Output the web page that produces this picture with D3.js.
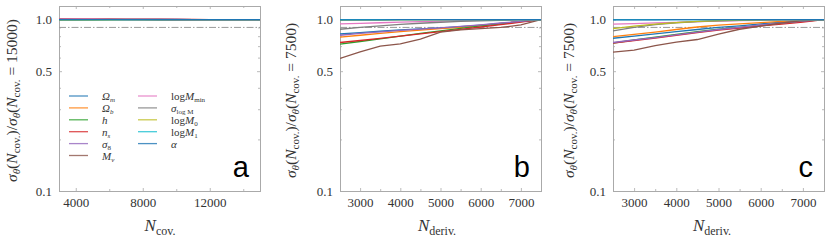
<!DOCTYPE html>
<html>
<head>
<meta charset="utf-8">
<script src="https://cdn.jsdelivr.net/npm/d3@7"></script>
<style>
  body { margin: 0; background: #fff; }
  svg { display: block; }
</style>
</head>
<body>
<svg id="chart" width="830" height="241"></svg>
<script>
// parameter names and matplotlib default colours
var params = ["Om", "Ob", "h", "ns", "s8", "Mnu", "logMmin", "sigmalogM", "logM0", "logM1", "alpha"];
var colors = ["#1f77b4", "#ff7f0e", "#2ca02c", "#d62728", "#9467bd", "#8c564b",
              "#e377c2", "#7f7f7f", "#bcbd22", "#17becf", "#1f77b4"];
// legend labels: [prefix, symbol, subscript]
var legendLabels = [["", "Ω", "m"], ["", "Ω", "b"], ["", "h", ""], ["", "n", "s"], ["", "σ", "8"], ["", "M", "ν"],
                    ["log", "M", "min"], ["", "σ", "log M"], ["log", "M", "0"], ["log", "M", "1"], ["", "α", ""]];

// panel a: N_cov.
var nCov = [3000, 4000, 5000, 6000, 7000, 8000, 9000, 10000, 11000, 12000, 13000, 14000, 15000];
var ratioA = {
  Om:        [1.006, 1.005, 1.004, 1.003, 1.002, 1.002, 1.001, 1.001, 1.0, 1.0, 1.0, 1.0, 1.0],
  Ob:        [1.004, 1.004, 1.003, 1.002, 1.002, 1.001, 1.001, 1.0, 1.0, 1.0, 1.0, 1.0, 1.0],
  h:         [0.996, 0.997, 0.997, 0.998, 0.998, 0.999, 0.999, 0.999, 1.0, 1.0, 1.0, 1.0, 1.0],
  ns:        [1.008, 1.007, 1.006, 1.005, 1.004, 1.003, 1.002, 1.001, 1.001, 1.0, 1.0, 1.0, 1.0],
  s8:        [1.003, 1.003, 1.002, 1.002, 1.001, 1.001, 1.001, 1.0, 1.0, 1.0, 1.0, 1.0, 1.0],
  Mnu:       [1.005, 1.004, 1.004, 1.003, 1.003, 1.002, 1.001, 1.001, 1.0, 1.0, 1.0, 1.0, 1.0],
  logMmin:   [1.007, 1.006, 1.005, 1.004, 1.003, 1.002, 1.002, 1.001, 1.0, 1.0, 1.0, 1.0, 1.0],
  sigmalogM: [0.997, 0.997, 0.998, 0.998, 0.999, 0.999, 0.999, 1.0, 1.0, 1.0, 1.0, 1.0, 1.0],
  logM0:     [0.995, 0.996, 0.997, 0.997, 0.998, 0.998, 0.999, 0.999, 1.0, 1.0, 1.0, 1.0, 1.0],
  logM1:     [1.0, 1.0, 1.0, 1.0, 1.0, 1.0, 1.0, 1.0, 1.0, 1.0, 1.0, 1.0, 1.0],
  alpha:     [1.0, 1.0, 1.0, 1.0, 1.0, 1.0, 1.0, 1.0, 1.0, 1.0, 1.0, 1.0, 1.0]
};

// panels b and c: N_deriv.
var nDeriv = [2500, 3000, 3500, 4000, 4500, 5000, 5500, 6000, 6500, 7000, 7500];
var ratioB = {
  Om:        [0.824, 0.840, 0.855, 0.870, 0.882, 0.893, 0.908, 0.928, 0.950, 0.975, 1.0],
  Ob:        [0.790, 0.810, 0.830, 0.850, 0.868, 0.885, 0.900, 0.925, 0.950, 0.975, 1.0],
  h:         [0.720, 0.745, 0.772, 0.800, 0.830, 0.860, 0.888, 0.918, 0.945, 0.972, 1.0],
  ns:        [0.735, 0.755, 0.777, 0.800, 0.825, 0.850, 0.876, 0.905, 0.935, 0.965, 1.0],
  s8:        [0.810, 0.830, 0.848, 0.865, 0.880, 0.895, 0.912, 0.932, 0.955, 0.977, 1.0],
  Mnu:       [0.594, 0.648, 0.700, 0.722, 0.768, 0.845, 0.870, 0.885, 0.900, 0.930, 1.0],
  logMmin:   [0.943, 0.950, 0.958, 0.966, 0.973, 0.979, 0.985, 0.990, 0.995, 0.998, 1.0],
  sigmalogM: [0.878, 0.900, 0.920, 0.938, 0.952, 0.965, 0.975, 0.984, 0.990, 0.995, 1.0],
  logM0:     [0.992, 0.993, 0.994, 0.995, 0.996, 0.997, 0.998, 0.999, 1.0, 1.0, 1.0],
  logM1:     [0.998, 0.998, 0.999, 0.999, 0.999, 1.0, 1.0, 1.0, 1.0, 1.0, 1.0],
  alpha:     [0.995, 0.996, 0.997, 0.998, 0.998, 0.999, 0.999, 1.0, 1.0, 1.0, 1.0]
};
var ratioC = {
  Om:        [0.778, 0.800, 0.825, 0.850, 0.875, 0.900, 0.920, 0.945, 0.965, 0.985, 1.0],
  Ob:        [0.795, 0.820, 0.845, 0.875, 0.905, 0.928, 0.945, 0.960, 0.975, 0.990, 1.0],
  h:         [0.730, 0.760, 0.790, 0.820, 0.850, 0.878, 0.900, 0.925, 0.950, 0.975, 1.0],
  ns:        [0.728, 0.755, 0.780, 0.810, 0.840, 0.868, 0.893, 0.918, 0.940, 0.965, 1.0],
  s8:        [0.735, 0.760, 0.785, 0.815, 0.845, 0.875, 0.900, 0.930, 0.955, 0.980, 1.0],
  Mnu:       [0.645, 0.664, 0.705, 0.738, 0.765, 0.822, 0.878, 0.915, 0.955, 0.985, 1.0],
  logMmin:   [0.940, 0.948, 0.956, 0.964, 0.972, 0.979, 0.985, 0.990, 0.995, 0.998, 1.0],
  sigmalogM: [0.860, 0.900, 0.935, 0.958, 0.973, 0.983, 0.990, 0.995, 0.998, 1.0, 1.0],
  logM0:     [0.885, 0.915, 0.940, 0.960, 0.975, 0.985, 0.992, 0.996, 0.999, 1.0, 1.0],
  logM1:     [0.998, 0.998, 0.999, 0.999, 0.999, 1.0, 1.0, 1.0, 1.0, 1.0, 1.0],
  alpha:     [0.995, 0.996, 0.997, 0.998, 0.998, 0.999, 0.999, 1.0, 1.0, 1.0, 1.0]
};

var yTicks = [0.1, 0.5, 1.0];
var yMinor = [0.2, 0.3, 0.4, 0.6, 0.7, 0.8, 0.9];
var refLine = 0.9;

var panels = [
  { letter: "a", xs: nCov, ys: ratioA, xDomain: [3000, 15000], xTicks: [4000, 8000, 12000], xMinor: [6000, 10000, 14000],
    xsub: "cov.", norm: "15000", left: 59, right: 260, ylabX: 17, xlabX: 160 },
  { letter: "b", xs: nDeriv, ys: ratioB, xDomain: [2500, 7500], xTicks: [3000, 4000, 5000, 6000, 7000], xMinor: [2500, 3500, 4500, 5500, 6500, 7500],
    xsub: "deriv.", norm: "7500", left: 340, right: 541, ylabX: 296, xlabX: 437 },
  { letter: "c", xs: nDeriv, ys: ratioC, xDomain: [2500, 7500], xTicks: [3000, 4000, 5000, 6000, 7000], xMinor: [2500, 3500, 4500, 5500, 6500, 7500],
    xsub: "deriv.", norm: "7500", left: 613, right: 824, ylabX: 574, xlabX: 712 }
];

var serif = "'Times New Roman', 'Liberation Serif', 'DejaVu Serif', serif";
var plotTop = 6, plotBottom = 191;
var svg = d3.select("#chart");

panels.forEach(function(p, pi) {
  var x = d3.scaleLinear().domain(p.xDomain).range([p.left, p.right]);
  var y = d3.scaleLog().domain([0.1, 1.2]).range([plotBottom, plotTop]);

  var grp = svg.append("g");
  var clipId = "clip" + pi;
  grp.append("clipPath").attr("id", clipId)
    .append("rect").attr("x", p.left).attr("y", plotTop).attr("width", p.right - p.left).attr("height", plotBottom - plotTop);

  // axes with inward ticks on all four sides
  grp.append("g").attr("transform", "translate(0," + plotBottom + ")")
    .call(d3.axisBottom(x).tickValues(p.xTicks).tickSize(-3).tickPadding(7).tickFormat(d3.format("d")))
    .call(styleAxis);
  grp.append("g").attr("transform", "translate(0," + plotBottom + ")")
    .call(d3.axisBottom(x).tickValues(p.xMinor).tickSize(-2).tickFormat(""))
    .call(styleAxis);
  grp.append("g").attr("transform", "translate(0," + plotTop + ")")
    .call(d3.axisTop(x).tickValues(p.xTicks).tickSize(-3).tickFormat(""))
    .call(styleAxis);
  grp.append("g").attr("transform", "translate(0," + plotTop + ")")
    .call(d3.axisTop(x).tickValues(p.xMinor).tickSize(-2).tickFormat(""))
    .call(styleAxis);
  grp.append("g").attr("transform", "translate(" + p.left + ",0)")
    .call(d3.axisLeft(y).tickValues(yTicks).tickSize(-3).tickPadding(7).tickFormat(d3.format(".1f")))
    .call(styleAxis);
  grp.append("g").attr("transform", "translate(" + p.left + ",0)")
    .call(d3.axisLeft(y).tickValues(yMinor).tickSize(-2).tickFormat(""))
    .call(styleAxis);
  grp.append("g").attr("transform", "translate(" + p.right + ",0)")
    .call(d3.axisRight(y).tickValues(yTicks).tickSize(-3).tickFormat(""))
    .call(styleAxis);
  grp.append("g").attr("transform", "translate(" + p.right + ",0)")
    .call(d3.axisRight(y).tickValues(yMinor).tickSize(-2).tickFormat(""))
    .call(styleAxis);

  // reference dash-dot line
  grp.append("line")
    .attr("x1", p.left).attr("x2", p.right)
    .attr("y1", y(refLine)).attr("y2", y(refLine))
    .attr("stroke", "#999").attr("stroke-width", 1)
    .attr("stroke-dasharray", "7,2,1.5,2");

  // series lines
  var line = d3.line()
    .x(function(d, i) { return x(p.xs[i]); })
    .y(function(d) { return y(d); });
  var lines = grp.append("g").attr("clip-path", "url(#" + clipId + ")");
  params.forEach(function(k, i) {
    lines.append("path")
      .datum(p.ys[k])
      .attr("d", line)
      .attr("fill", "none")
      .attr("stroke", colors[i])
      .attr("stroke-width", 1.3);
  });

  // y label: sigma_theta(N_cov.)/sigma_theta(N_cov. = norm)
  var ylFs = 15.5;
  var yl = grp.append("text")
    .attr("transform", "translate(" + p.ylabX + "," + ((plotTop + plotBottom) / 2 + 2) + ") rotate(-90)")
    .attr("text-anchor", "middle").attr("font-size", ylFs).attr("font-family", serif).attr("fill", "#333");
  mathText(yl, ylFs, [["σ", "it"], ["θ", "sub-it"], ["(", ""], ["N", "it"], ["cov.", "sub"],
                      [")/", ""], ["σ", "it"], ["θ", "sub-it"], ["(", ""], ["N", "it"], ["cov.", "sub"],
                      [" = " + p.norm + ")", ""]]);

  // x label
  var xl = grp.append("text")
    .attr("x", p.xlabX).attr("y", 231)
    .attr("text-anchor", "middle").attr("font-size", 17).attr("font-family", serif).attr("fill", "#333");
  mathText(xl, 17, [["N", "it"], [p.xsub, "sub"]]);

  // panel letter
  grp.append("text")
    .attr("x", p.right - 11).attr("y", 177)
    .attr("text-anchor", "end")
    .attr("font-family", "'Liberation Sans', Arial, sans-serif")
    .attr("font-size", 29).attr("fill", "#000")
    .text(p.letter);

  // legend in panel a
  if (pi === 0) {
    var lg = grp.append("g");
    legendLabels.forEach(function(lab, i) {
      var col = i < 6 ? 0 : 1;
      var row = i < 6 ? i : i - 6;
      var lx = col === 0 ? 69 : 138;
      var ly = 96 + row * 11.9;
      lg.append("line")
        .attr("x1", lx).attr("x2", lx + 19)
        .attr("y1", ly).attr("y2", ly)
        .attr("stroke", colors[i]).attr("stroke-width", 1.3).attr("stroke-opacity", 0.8);
      var t = lg.append("text")
        .attr("x", lx + 33).attr("y", ly + 4)
        .attr("font-size", 11).attr("font-family", serif).attr("fill", "#333");
      var parts = [];
      if (lab[0]) parts.push([lab[0], ""]);
      parts.push([lab[1], "it"]);
      if (lab[2]) parts.push([lab[2], /^(m|b|s|ν)$/.test(lab[2]) ? "sub-it" : "sub"]);
      mathText(t, 11, parts);
    });
  }
});

// builds text with italic symbols and subscripts, dy in pixels
function mathText(t, fs, parts) {
  var shift = 0;
  var drop = Math.round(fs * 0.22);
  parts.forEach(function(pt) {
    var isSub = pt[1].indexOf("sub") === 0;
    var target = isSub ? drop : 0;
    var s = t.append("tspan").text(pt[0]);
    if (target !== shift) { s.attr("dy", target - shift); shift = target; }
    if (isSub) s.attr("font-size", Math.round(fs * 0.68));
    if (pt[1] === "it" || pt[1] === "sub-it") s.attr("font-style", "italic");
  });
}

function styleAxis(g) {
  g.attr("font-family", serif).attr("font-size", 13);
  g.select(".domain").attr("stroke", "#aaa").attr("stroke-width", 1);
  g.selectAll(".tick line").attr("stroke", "#aaa").attr("stroke-width", 0.8);
  g.selectAll(".tick text").attr("fill", "#333");
}
</script>
</body>
</html>
